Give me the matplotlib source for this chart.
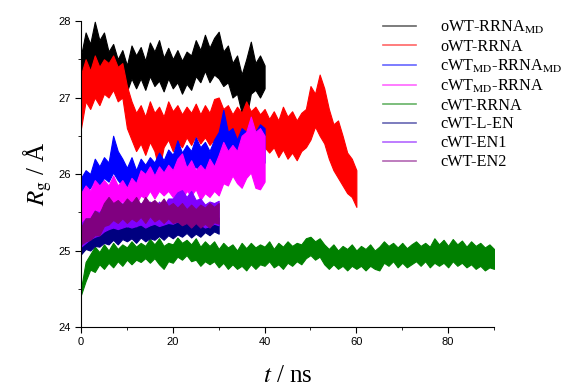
import numpy as np
import matplotlib
matplotlib.use('Agg')
import matplotlib.pyplot as plt

plt.rcParams['mathtext.fontset'] = 'stix'

# band envelopes (lower / upper Rg, in A), 1 ns steps
black_hi = [27.55, 27.85, 27.7, 27.99, 27.75, 27.85, 27.6, 27.7, 27.5, 27.62, 27.42, 27.68, 27.55, 27.66, 27.48, 27.72,
            27.6, 27.75, 27.52, 27.65, 27.5, 27.62, 27.48, 27.6, 27.55, 27.75, 27.62, 27.82, 27.65, 27.78, 27.86, 27.6,
            27.68, 27.45, 27.55, 27.3, 27.5, 27.73, 27.45, 27.55, 27.42]
black_lo = [27.25, 27.4, 27.35, 27.55, 27.4, 27.48, 27.35, 27.45, 27.2, 27.3, 27.08, 27.25, 27.12, 27.25, 27.1, 27.28,
            27.15, 27.22, 27.08, 27.25, 27.12, 27.2, 27.05, 27.18, 27.1, 27.28, 27.2, 27.35, 27.2, 27.3, 27.25, 27.15,
            27.2, 27.0, 27.05, 26.8, 26.73, 27.05, 27.1, 27.0, 27.12]

red_hi = [27.3, 27.5, 27.35, 27.55, 27.4, 27.5, 27.45, 27.55, 27.4, 27.45, 27.15, 26.95, 26.8, 26.9, 26.75, 26.95,
          26.8, 26.88, 26.75, 26.95, 26.82, 26.9, 26.78, 26.88, 26.8, 26.92, 26.78, 26.9, 26.8, 26.98, 27.0, 26.85,
          26.9, 26.78, 26.88, 26.8, 26.95, 26.82, 26.88, 26.78, 26.85, 26.72, 26.82, 26.7, 26.88, 26.75, 26.82, 26.7,
          26.8, 26.85, 27.15, 27.05, 27.3, 27.12, 26.85, 26.65, 26.7, 26.5, 26.28, 26.2, 26.05]
red_lo = [26.6, 26.95, 26.85, 27.0, 26.9, 27.05, 27.0, 27.1, 26.95, 27.0, 26.6, 26.45, 26.3, 26.4, 26.25, 26.42,
          26.3, 26.05, 26.35, 26.45, 26.3, 26.42, 26.35, 26.48, 26.38, 26.5, 26.4, 26.48, 26.38, 26.45, 26.5, 26.4,
          26.48, 26.35, 26.45, 26.28, 26.4, 26.45, 26.3, 26.4, 26.35, 26.28, 26.35, 26.22, 26.32, 26.2, 26.28, 26.18,
          26.3, 26.35, 26.45, 26.62, 26.5, 26.4, 26.2, 26.05, 25.95, 25.85, 25.75, 25.7, 25.57]

blue_hi = [25.95, 26.05, 26.0, 26.2, 26.1, 26.22, 26.15, 26.5, 26.3, 26.2, 26.08, 26.22, 26.05, 26.2, 26.12, 26.22,
           26.15, 26.28, 26.18, 26.32, 26.25, 26.44, 26.28, 26.38, 26.3, 26.48, 26.35, 26.42, 26.3, 26.45, 26.55,
           26.84, 26.55, 26.6, 26.45, 26.6, 26.55, 26.7, 26.55, 26.65, 26.6]
blue_lo = [25.66, 25.75, 25.82, 25.92, 25.85, 25.95, 25.9, 26.02, 25.92, 25.85, 25.76, 25.82, 25.75, 25.85, 25.82,
           25.92, 25.9, 25.98, 25.92, 26.02, 26.0, 26.1, 26.02, 26.12, 26.05, 26.1, 25.98, 26.05, 25.96, 26.02, 26.05,
           26.12, 26.0, 26.02, 25.98, 26.08, 26.0, 26.12, 26.02, 26.1, 26.15]

mag_hi = [25.75, 25.85, 25.78, 25.92, 25.85, 25.92, 25.85, 25.98, 25.85, 25.92, 25.82, 25.95, 25.88, 26.05, 26.0, 26.1,
          25.98, 26.1, 26.02, 26.12, 26.05, 26.2, 26.27, 26.08, 26.18, 26.05, 26.12, 26.05, 26.2, 26.1, 26.25, 26.42,
          26.3, 26.38, 26.3, 26.5, 26.55, 26.75, 26.55, 26.6, 26.5]
mag_lo = [25.3, 25.38, 25.4, 25.5, 25.48, 25.58, 25.5, 25.6, 25.55, 25.65, 25.55, 25.62, 25.6, 25.72, 25.68, 25.78,
          25.68, 25.78, 25.72, 25.78, 25.7, 25.75, 25.66, 25.78, 25.72, 25.8, 25.66, 25.75, 25.7, 25.78, 25.72, 25.88,
          25.85, 25.98, 25.88, 25.82, 25.95, 26.02, 25.82, 25.8, 25.9]

green_hi = [24.5, 24.85, 24.95, 25.05, 24.98, 25.08, 25.0, 25.1, 25.02, 25.08, 25.04, 25.12, 25.05, 25.1, 25.06, 25.15,
            25.08, 25.16, 25.06, 25.1, 25.08, 25.17, 25.1, 25.14, 25.08, 25.16, 25.05, 25.12, 25.06, 25.12, 25.02,
            25.1, 25.04, 25.08, 25.0, 25.1, 25.03, 25.1, 25.04, 25.08, 25.05, 25.12, 25.02, 25.1, 25.05, 25.12, 25.06,
            25.1, 25.08, 25.16, 25.18, 25.12, 25.16, 25.08, 25.02, 25.08, 25.0, 25.06, 25.02, 25.08, 25.0, 25.06,
            25.02, 25.08, 25.0, 25.05, 25.12, 25.06, 25.1, 25.04, 25.1, 25.03, 25.08, 25.12, 25.06, 25.1, 25.05,
            25.16, 25.08, 25.14, 25.06, 25.15, 25.08, 25.13, 25.05, 25.12, 25.06, 25.1, 25.04, 25.08, 25.02]
green_lo = [24.42, 24.6, 24.75, 24.72, 24.82, 24.76, 24.84, 24.78, 24.86, 24.8, 24.88, 24.82, 24.88, 24.85, 24.9,
            24.84, 24.9, 24.82, 24.76, 24.86, 24.84, 24.92, 24.88, 24.94, 24.86, 24.88, 24.8, 24.86, 24.82, 24.86,
            24.78, 24.84, 24.76, 24.82, 24.76, 24.8, 24.74, 24.82, 24.76, 24.82, 24.8, 24.86, 24.78, 24.82, 24.76,
            24.84, 24.8, 24.86, 24.82, 24.9, 24.94, 24.88, 24.92, 24.82, 24.76, 24.82, 24.76, 24.8, 24.74, 24.8,
            24.76, 24.8, 24.74, 24.8, 24.76, 24.74, 24.84, 24.8, 24.86, 24.78, 24.84, 24.78, 24.82, 24.86, 24.8,
            24.86, 24.78, 24.84, 24.8, 24.84, 24.78, 24.86, 24.8, 24.84, 24.78, 24.82, 24.76, 24.8, 24.74, 24.78, 24.76]

navy_hi = [25.15, 25.22, 25.2, 25.28, 25.24, 25.3, 25.27, 25.34, 25.28, 25.35, 25.3, 25.34, 25.3, 25.38, 25.3, 25.36,
           25.34, 25.4, 25.33, 25.4, 25.36, 25.44, 25.38, 25.44, 25.36, 25.42, 25.38, 25.45, 25.38, 25.46, 25.43]
navy_lo = [24.95, 25.02, 25.0, 25.06, 25.05, 25.1, 25.08, 25.14, 25.08, 25.15, 25.12, 25.16, 25.1, 25.17, 25.12, 25.16,
           25.14, 25.19, 25.14, 25.2, 25.16, 25.21, 25.18, 25.23, 25.17, 25.22, 25.18, 25.24, 25.2, 25.25, 25.22]

violet_hi = [25.35, 25.42, 25.42, 25.52, 25.5, 25.58, 25.55, 25.62, 25.55, 25.62, 25.56, 25.64, 25.58, 25.62, 25.58,
             25.64, 25.56, 25.64, 25.58, 25.68, 25.68, 25.76, 25.79, 25.7, 25.78, 25.66, 25.68, 25.6, 25.64, 25.62, 25.65]
violet_lo = [25.05, 25.1, 25.15, 25.18, 25.2, 25.25, 25.28, 25.3, 25.28, 25.3, 25.32, 25.3, 25.32, 25.34, 25.3, 25.33,
             25.35, 25.32, 25.34, 25.36, 25.35, 25.38, 25.36, 25.38, 25.35, 25.37, 25.34, 25.3, 25.32, 25.35, 25.33]

purple_hi = [25.3, 25.42, 25.42, 25.52, 25.48, 25.62, 25.7, 25.62, 25.66, 25.6, 25.68, 25.62, 25.7, 25.6, 25.7, 25.62,
             25.66, 25.6, 25.68, 25.58, 25.62, 25.56, 25.62, 25.54, 25.6, 25.54, 25.6, 25.56, 25.62, 25.57, 25.62]
purple_lo = [25.08, 25.12, 25.14, 25.2, 25.2, 25.32, 25.34, 25.4, 25.36, 25.42, 25.36, 25.42, 25.38, 25.44, 25.36,
             25.45, 25.38, 25.42, 25.36, 25.42, 25.36, 25.38, 25.33, 25.36, 25.3, 25.36, 25.3, 25.35, 25.3, 25.37, 25.35]

labels = ['oWT-RRNA$_{\\mathrm{MD}}$', 'oWT-RRNA', 'cWT$_{\\mathrm{MD}}$-RRNA$_{\\mathrm{MD}}$',
          'cWT$_{\\mathrm{MD}}$-RRNA', 'cWT-RRNA', 'cWT-L-EN', 'cWT-EN1', 'cWT-EN2']
colors = ['black', 'red', 'blue', 'magenta', 'green', 'navy', '#8000ff', 'purple']
bands = [(black_lo, black_hi), (red_lo, red_hi), (blue_lo, blue_hi), (mag_lo, mag_hi),
         (green_lo, green_hi), (navy_lo, navy_hi), (violet_lo, violet_hi), (purple_lo, purple_hi)]

fig = plt.figure(figsize=(5.65, 3.92), dpi=100)
ax = fig.add_axes([0.1434, 0.1658, 0.7310, 0.7806])

handles = []
for (lo, hi), c, lab in zip(bands, colors, labels):
    t = np.arange(len(lo))
    ax.fill_between(t, lo, hi, color=c, lw=0.8)
    h, = ax.plot([], [], color=c, lw=1.2, alpha=0.6, label=lab)
    handles.append(h)

ax.set_xlim(0, 90)
ax.set_ylim(24, 28)
ax.set_xticks([0, 20, 40, 60, 80])
ax.set_xticks([10, 30, 50, 70, 90], minor=True)
ax.set_yticks([24, 25, 26, 27, 28])
ax.set_yticks([24.5, 25.5, 26.5, 27.5], minor=True)
for s in ['top', 'right']:
    ax.spines[s].set_visible(False)
ax.tick_params(which='major', length=4, labelsize=8)
ax.tick_params(which='minor', length=2.5)
for lb in ax.get_xticklabels() + ax.get_yticklabels():
    lb.set_family('Liberation Sans')

ax.set_xlabel('$t$ / ns', fontsize=18, family='Liberation Serif', labelpad=13)
ax.set_ylabel('$R_{\\mathrm{g}}$ / Å', fontsize=18, family='Liberation Serif', labelpad=3)

fig.legend(handles=handles, loc='upper left', bbox_to_anchor=(0.652, 0.99), frameon=False,
           prop={'family': 'Liberation Serif', 'size': 11.7}, handlelength=2.05, handletextpad=1.45,
           labelspacing=0.18)

fig.savefig('out.png', dpi=100)
